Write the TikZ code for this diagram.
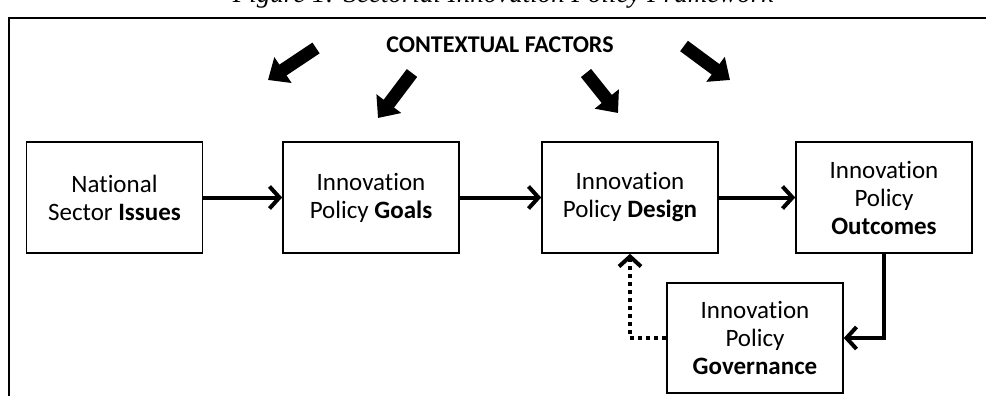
\documentclass[tikz,border=0pt]{standalone}
\usepackage{fontspec}
\setmainfont{Carlito}[Ligatures={NoCommon}]
\newfontfamily\capfont{Liberation Serif}
\usetikzlibrary{arrows.meta}
\begin{document}
\begin{tikzpicture}[x=0.5pt,y=-0.5pt,
  box/.style={draw,line width=0.8pt,minimum width=88pt,minimum height=55.5pt,align=center,
    font=\fontsize{12.5}{14}\selectfont,inner sep=0pt},
  flow/.style={line width=2pt,-{Straight Barb[length=5pt,width=11pt]}},
  dotflow/.style={line width=2pt,dash pattern=on 2pt off 2pt,-{Straight Barb[length=5pt,width=11pt]}},
  blockarrow/.style={line width=6.5pt,-{Triangle[length=9pt,width=15pt]}}
]
\useasboundingbox (0,0) rectangle (986,396);
\clip (0,0) rectangle (986,396);
% caption (cut by page top, as in the reference)
\node[anchor=base,font=\capfont\itshape\fontsize{13.5}{16}\selectfont,inner sep=0pt] (cap) at (503,3) {Figure 1: Sectorial Innovation Policy Framework};
% frame
\draw[line width=1.2pt] (9,400) -- (9,18) -- (990,18);
% contextual factors
\node[font=\bfseries\fontsize{12}{14}\selectfont] (ctx) at (500,45) {CONTEXTUAL FACTORS};
% boxes
\node[box] (issues) at (114.5,197.5) {National\\Sector \textbf{Issues}};
\node[box] (goals) at (371,197.5) {Innovation\\Policy \textbf{Goals}};
\node[box] (design) at (630,197.5) {Innovation\\Policy \textbf{Design}};
\node[box] (outcomes) at (884,197.5) {Innovation\\Policy\\\textbf{Outcomes}};
\node[box,minimum height=55pt] (gov) at (755,338) {Innovation\\Policy\\\textbf{Governance}};
% block arrows from contextual factors
\coordinate (t1) at (316,48); \coordinate (h1) at (268,80);
\coordinate (t2) at (412,73); \coordinate (h2) at (378,118);
\coordinate (t3) at (586,73); \coordinate (h3) at (618,113);
\coordinate (t4) at (684,46); \coordinate (h4) at (730,80);
\draw[blockarrow] (t1) -- (h1);
\draw[blockarrow] (t2) -- (h2);
\draw[blockarrow] (t3) -- (h3);
\draw[blockarrow] (t4) -- (h4);
% flow arrows
\draw[flow] (issues) -- (goals);
\draw[flow] (goals) -- (design);
\draw[flow] (design) -- (outcomes);
\draw[flow] (outcomes.south) |- (gov.east);
\draw[dotflow] (gov.west) -| (design.south);
\end{tikzpicture}
\end{document}
